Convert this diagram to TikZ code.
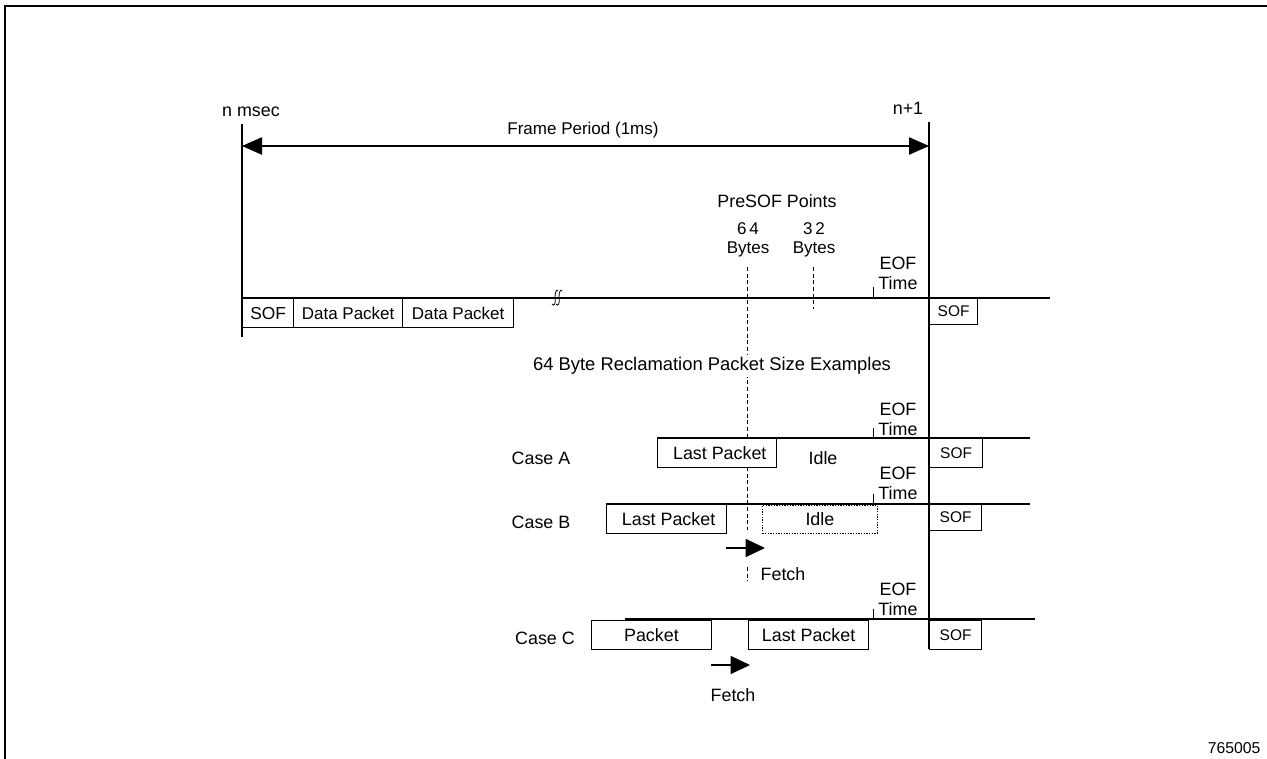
\documentclass[tikz,border=0pt]{standalone}
\usepackage{fontspec}
\setmainfont{Liberation Sans}
\usetikzlibrary{arrows.meta}
\begin{document}
\begin{tikzpicture}[x=0.75pt,y=-0.75pt,line width=0.9pt,
  every node/.style={font=\fontsize{13.4}{15}\selectfont,inner sep=0pt},
  pbox/.style={draw,fill=white,anchor=north west,line width=0.9pt,minimum height=21.75pt},
  smallfont/.style={font=\fontsize{12.75}{14}\selectfont},
  sofbox/.style={pbox,font=\fontsize{11.6}{13}\selectfont},
  idlebox/.style={pbox,line width=0.6pt,dash pattern=on 1pt off 1pt},
  txt/.style={},
  wtxt/.style={fill=white,inner sep=1.5pt,font=\fontsize{13.8}{15}\selectfont},
  preline/.style={line width=0.7pt,dash pattern=on 3pt off 2pt},
  tick/.style={line width=0.7pt},
  dblarrow/.style={{Triangle[length=15pt,width=13pt]}-{Triangle[length=15pt,width=13pt]},line width=0.9pt},
  fetcharrow/.style={-{Triangle[length=14.5pt,width=13.5pt]},line width=0.9pt}]
\useasboundingbox (0,0) rectangle (1267,759);

% frame border
\coordinate (bTL) at (5,6);
\coordinate (bTR) at (1267,6);
\coordinate (bBL) at (5,759);
\draw[line width=1.6pt] (bTR) -- (bTL) -- (bBL);

% frame boundaries
\coordinate (L0) at (242,124);
\coordinate (L1) at (242,337);
\coordinate (R0) at (929,122);
\coordinate (R1) at (929,649);
\draw (L0) -- (L1);
\draw (R0) -- (R1);
\node[txt] (nmsec) at (251,112) {n msec};
\node[txt] (n1) at (908,108) {n+1};
\coordinate (fpL) at (242,146);
\coordinate (fpR) at (929,146);
\draw[dblarrow] (fpL) -- (fpR);
\node[txt,smallfont] (fp) at (583,130) {Frame Period (1ms)};

% PreSOF points
\node[txt] (presof) at (777,201) {PreSOF Points};
\node[txt,align=center,smallfont] (b64) at (748,240) {6\,4\\Bytes};
\node[txt,align=center,smallfont] (b32) at (814,240) {3\,2\\Bytes};
\coordinate (d64a) at (747,267);
\coordinate (d64b) at (747,530);
\coordinate (d64c) at (747,567);
\coordinate (d64d) at (747,581);
\draw[preline] (d64a) -- (d64b);
\draw[preline] (d64c) -- (d64d);
\coordinate (d32a) at (813,267);
\coordinate (d32b) at (813,309);
\draw[preline] (d32a) -- (d32b);

% main timeline
\coordinate (tl0) at (242,298);
\coordinate (tl1) at (1050,298);
\draw (tl0) -- (tl1);
\node[pbox,minimum width=38.25pt,font=\fontsize{13}{14}\selectfont] (sof0) at (242,298) {SOF};
\node[pbox,minimum width=81.75pt,smallfont] (dp1) at (293,298) {Data Packet};
\node[pbox,minimum width=83.25pt,smallfont] (dp2) at (402,298) {Data Packet};
\node[sofbox,minimum width=36pt,minimum height=19.5pt] (sof1) at (929,298) {SOF};
% break mark
\coordinate (br1a) at (552,304);
\coordinate (br1b) at (558,291);
\coordinate (br2a) at (556,304);
\coordinate (br2b) at (562,291);
\draw[line width=0.6pt] (br1a) .. controls (554,307) and (556,304) .. (555,297)
  .. controls (555,291) and (557,289) .. (br1b);
\draw[line width=0.6pt] (br2a) .. controls (558,307) and (560,304) .. (559,297)
  .. controls (559,291) and (561,289) .. (br2b);
\node[txt,align=center] (eof0) at (898,273) {EOF\\Time};
\coordinate (t0a) at (873,287);
\coordinate (t0b) at (873,298);
\draw[tick] (t0a) -- (t0b);

% examples
\node[wtxt] (recl) at (712,366) {64 Byte Reclamation Packet Size Examples};

% Case A
\coordinate (a0) at (657,438);
\coordinate (a1) at (1030,438);
\draw (a0) -- (a1);
\node[pbox,minimum width=89.25pt] (aLast) at (657,438) {\hspace{4pt}Last Packet};
\node[txt] (aIdle) at (823,458) {Idle};
\node[sofbox,minimum width=39.75pt] (aSOF) at (929,438) {SOF};
\node[txt,align=center] (eofA) at (898,419) {EOF\\Time};
\coordinate (tAa) at (873,428);
\coordinate (tAb) at (873,438);
\draw[tick] (tAa) -- (tAb);
\node[txt] (caseA) at (541,458) {Case A};

% Case B
\coordinate (b0) at (606,504);
\coordinate (b1) at (1030,504);
\draw (b0) -- (b1);
\node[pbox,minimum width=90pt] (bLast) at (606,504) {\hspace{3pt}Last Packet};
\node[idlebox,minimum width=86.25pt,minimum height=21pt] (bIdle) at (762,505) {Idle};
\node[sofbox,minimum width=39pt,minimum height=19.5pt] (bSOF) at (929,504) {SOF};
\node[txt,align=center] (eofB) at (898,483) {EOF\\Time};
\coordinate (tBa) at (873,494);
\coordinate (tBb) at (873,504);
\draw[tick] (tBa) -- (tBb);
\node[txt] (caseB) at (541,522) {Case B};
\coordinate (fB0) at (726,548);
\coordinate (fB1) at (765,548);
\draw[fetcharrow] (fB0) -- (fB1);
\node[txt] (fetchB) at (783,574) {Fetch};

% Case C
\coordinate (c0) at (625,619);
\coordinate (c0e) at (873,619);
\coordinate (c1) at (1035,619);
\draw (c0) -- (c1);
\draw[line width=1.4pt] (c0) -- (c0e);
\node[pbox,minimum width=89.75pt] (cPkt) at (591,620) {Packet\hspace{20pt}};
\node[pbox,minimum width=90pt] (cLast) at (748,620) {Last Packet};
\node[sofbox,minimum width=39pt] (cSOF) at (929,620) {SOF};
\node[txt,align=center] (eofC) at (898,599) {EOF\\Time};
\coordinate (tCa) at (873,609);
\coordinate (tCb) at (873,619);
\draw[tick] (tCa) -- (tCb);
\node[txt] (caseC) at (545,638) {Case C};
\coordinate (fC0) at (711,665);
\coordinate (fC1) at (750,665);
\draw[fetcharrow] (fC0) -- (fC1);
\node[txt] (fetchC) at (733,695) {Fetch};

% figure number
\node[txt,font=\fontsize{11.8}{13}\selectfont] (fig) at (1234,748) {765005};
\end{tikzpicture}
\end{document}
